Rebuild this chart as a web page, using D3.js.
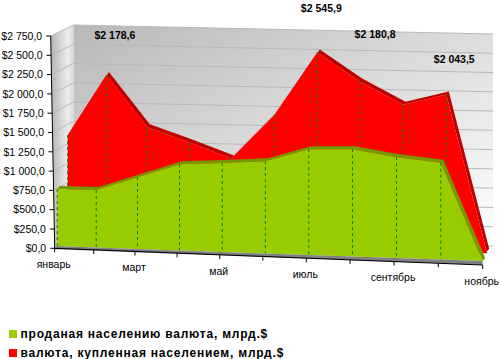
<!DOCTYPE html>
<html><head><meta charset="utf-8">
<script src="https://cdn.jsdelivr.net/npm/d3@7"></script>
<style>html,body{margin:0;padding:0;background:#fff}svg{display:block}text{font-family:"Liberation Sans",Arial,sans-serif;fill:#000}</style>
</head><body><svg id="c" width="501" height="359"></svg>
<script>
const months = ["январь","февраль","март","апрель","май","июнь","июль","август","сентябрь","октябрь","ноябрь"];
const shownMonths = ["январь","март","май","июль","сентябрь","ноябрь"];
const soldValues = [738,745,932,1120,1153,1198,1373,1392,1308,1256,0];
const boughtValues = [1385,2178.6,1516,1337,1139,1716,2545.9,2180.8,1896,2043.5,20];
const labelled = {1:[8.5,-40],6:[4,-44],7:[15,-47],9:[8,-35]};
const yTicks = d3.range(0,2751,250);
const legendNames = ["проданая населению валюта, млрд.$","валюта, купленная населением, млрд.$"];
const GREEN="#99cc00",OLIVE="#739a00",RED="#ff0000",DARK="#bf0000",GREY="#808080",DASH="#008000";

const svg=d3.select("#c");
const loc=d3.formatLocale({decimal:",",thousands:"\u00a0",grouping:[3],currency:["$",""]});
const fmt=loc.format("$,.1f");

const xAxis=d3.scalePow().exponent(1.04).domain([0,10]).range([54.7,482.7]);
const axisY=d3.scaleLinear().domain([0,10]).range([248.3,265]);
const h=d3.scaleLinear().domain([0,2750]).range([0,212]);
const redDx=d3.scaleLinear().domain([0,6,9,10]).range([13,11,8,4]);
const redBase=d3.scaleLinear().domain([0,10]).range([241.9,253.2]);
const greenBase=d3.scaleLinear().domain([0,10]).range([246,261]);
const greenX=i=>xAxis(i)+(i>=10?0:2.5);
const redX=i=>xAxis(i)+redDx(i);
const BX=2.5,BY=-3;

const defs=svg.append("defs");
const g1=defs.append("linearGradient").attr("id","back").attr("x1","0").attr("y1","0").attr("x2","1").attr("y2","1");
g1.append("stop").attr("offset","0").attr("stop-color","#b8b8b8");
g1.append("stop").attr("offset","0.5").attr("stop-color","#dcdcdc");
g1.append("stop").attr("offset","1").attr("stop-color","#ffffff");
const g2=defs.append("linearGradient").attr("id","side").attr("x1","0").attr("y1","0").attr("x2","1").attr("y2","0");
g2.append("stop").attr("offset","0").attr("stop-color","#b4b4b4");
g2.append("stop").attr("offset","0.75").attr("stop-color","#ececec");
g2.append("stop").attr("offset","1").attr("stop-color","#d8d8d8");

// walls
const wallLeft=73.5,wallRight=493;
const frontX=v=>54.7-v*4/2750;
const wallY=d3.scaleLinear().domain([wallLeft,wallRight]).range([237,246]);
const frontY=d3.scaleLinear().domain([0,2750]).range([248.3,36]);
const poly=p=>"M"+p.map(d=>d.join(",")).join("L")+"Z";
svg.append("path").attr("d",poly([[wallLeft,wallY(wallLeft)-212],[wallRight,wallY(wallRight)-212],[wallRight,wallY(wallRight)],[wallLeft,wallY(wallLeft)]])).attr("fill","url(#back)");
svg.append("path").attr("d",poly([[frontX(2750),36],[wallLeft,25],[wallLeft,237],[frontX(0),248.3]])).attr("fill","url(#side)");
yTicks.forEach(v=>{
  svg.append("path").attr("d",`M${frontX(v)},${frontY(v)}L${wallLeft},${wallY(wallLeft)-h(v)}L${wallRight},${wallY(wallRight)-h(v)}`)
    .attr("fill","none").attr("stroke","#b9b9b9").attr("stroke-width",1);
});

// ribbons
const idx=d3.range(months.length);
const redTop=idx.map(i=>[redX(i),redBase(i)-h(boughtValues[i])]);
const greenTop=idx.map(i=>[greenX(i),greenBase(i)-h(soldValues[i])]);
const band=(pts)=>poly(pts.concat(pts.slice().reverse().map(d=>[d[0]+BX,d[1]+BY])));
svg.append("path").attr("d",band(redTop)).attr("fill",DARK);
svg.append("path").attr("d",poly(redTop.concat(idx.slice().reverse().map(i=>[redX(i),redBase(i)])))).attr("fill",RED);
svg.selectAll(".rd").data(idx).join("line").attr("x1",i=>redX(i)).attr("x2",i=>redX(i))
  .attr("y1",i=>redTop[i][1]).attr("y2",i=>redBase(i)).attr("stroke",DASH).attr("stroke-dasharray","3,3");
svg.append("path").attr("d",band(greenTop)).attr("fill",OLIVE);
svg.append("path").attr("d",poly(greenTop.concat(idx.slice().reverse().map(i=>[greenX(i),greenBase(i)])))).attr("fill",GREEN);
svg.selectAll(".gd").data(idx.slice(0,10)).join("line").attr("x1",i=>greenX(i)).attr("x2",i=>greenX(i))
  .attr("y1",i=>greenTop[i][1]).attr("y2",i=>greenBase(i)).attr("stroke",DASH).attr("stroke-dasharray","3,3");
svg.append("path").attr("d",poly(idx.map(i=>[greenX(i),greenBase(i)]).concat(idx.slice().reverse().map(i=>[xAxis(i),axisY(i)])))).attr("fill",GREY);

// axes
svg.append("line").attr("x1",frontX(2750)).attr("y1",36).attr("x2",frontX(0)).attr("y2",248.3).attr("stroke","#000");
svg.append("line").attr("x1",xAxis(0)).attr("y1",axisY(0)).attr("x2",xAxis(10)).attr("y2",axisY(10)).attr("stroke","#000").attr("stroke-width",1.2);
yTicks.forEach(v=>{
  svg.append("line").attr("x1",frontX(v)-4.5).attr("x2",frontX(v)).attr("y1",frontY(v)).attr("y2",frontY(v)).attr("stroke","#000");
  svg.append("text").attr("x",frontX(v)-8.5).attr("y",frontY(v)).attr("dy","0.36em").attr("text-anchor","end").attr("font-size",10.5).text(fmt(v));
});
idx.forEach(i=>{
  svg.append("line").attr("x1",xAxis(i)).attr("x2",xAxis(i)).attr("y1",axisY(i)).attr("y2",axisY(i)+4).attr("stroke","#000");
  if(shownMonths.includes(months[i]))
    svg.append("text").attr("x",xAxis(i)-1).attr("y",axisY(i)+16).attr("dy","0.36em").attr("text-anchor","middle").attr("font-size",10.5).text(months[i]);
});

// value labels
Object.keys(labelled).forEach(k=>{
  const i=+k,o=labelled[k];
  svg.append("text").attr("x",redTop[i][0]+o[0]).attr("y",redTop[i][1]+o[1]).attr("dy","0.36em").attr("text-anchor","middle")
    .attr("font-size",10.5).attr("font-weight","bold").text(fmt(boughtValues[i]));
});

// legend
legendNames.forEach((n,i)=>{
  const y=334+i*19;
  svg.append("rect").attr("x",9).attr("y",y-4).attr("width",8).attr("height",8).attr("fill",i?RED:GREEN);
  svg.append("text").attr("x",20.5).attr("y",y).attr("dy","0.36em").attr("font-size",12).attr("font-weight","bold").attr("letter-spacing",0.78).text(n);
});
</script></body></html>
